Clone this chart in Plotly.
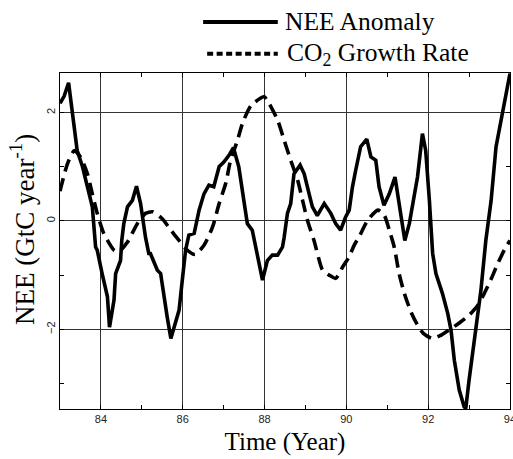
import plotly.graph_objects as go

# NEE anomaly (GtC / year) against decimal year
nee_year = [83.00, 83.10, 83.21, 83.34, 83.42, 83.55, 83.67, 83.79, 83.87, 83.91,
            84.03, 84.16, 84.21, 84.32, 84.36, 84.48, 84.51, 84.56, 84.65, 84.77,
            84.87, 84.97, 85.09, 85.17, 85.21, 85.38, 85.46, 85.54, 85.62, 85.71,
            85.83, 85.91, 85.99, 86.07, 86.15, 86.28, 86.40, 86.52, 86.64, 86.76,
            86.89, 87.01, 87.13, 87.24, 87.37, 87.46, 87.58, 87.70, 87.82, 87.95,
            88.07, 88.19, 88.32, 88.44, 88.48, 88.56, 88.64, 88.72, 88.87, 88.97,
            89.09, 89.17, 89.29, 89.46, 89.62, 89.74, 89.86, 89.98, 90.07, 90.15,
            90.23, 90.35, 90.50, 90.60, 90.72, 90.80, 90.92, 91.05, 91.19, 91.29,
            91.43, 91.54, 91.66, 91.74, 91.86, 91.94, 92.03, 92.11, 92.19, 92.35,
            92.48, 92.56, 92.64, 92.76, 92.88, 92.92, 93.00, 93.13, 93.29, 93.41,
            93.54, 93.66, 93.79, 93.91, 94.00]
nee_value = [2.17, 2.30, 2.55, 1.73, 1.30, 1.00, 0.63, 0.26, -0.48, -0.54,
             -0.97, -1.40, -1.96, -1.46, -0.97, -0.73, -0.36, -0.05, 0.26, 0.38,
             0.64, 0.32, -0.30, -0.60, -0.60, -0.91, -0.97, -1.40, -1.77, -2.17,
             -1.83, -1.65, -1.09, -0.54, -0.26, -0.23, 0.20, 0.50, 0.66, 0.63,
             1.00, 1.09, 1.21, 1.35, 1.00, 0.57, -0.05, -0.17, -0.60, -1.09,
             -0.73, -0.63, -0.63, -0.48, -0.30, 0.14, 0.32, 0.87, 1.03, 0.87,
             0.50, 0.26, 0.10, 0.32, 0.14, -0.05, -0.17, 0.07, 0.20, 0.63,
             0.94, 1.37, 1.51, 1.18, 1.12, 0.63, 0.29, 0.50, 0.81, 0.32,
             -0.36, -0.05, 0.50, 0.81, 1.61, 1.30, 0.38, -0.60, -0.97, -1.34,
             -1.71, -2.02, -2.57, -3.12, -3.43, -3.46, -2.94, -2.20, -1.28, -0.36,
             0.38, 1.37, 1.92, 2.35, 2.72]

# Atmospheric CO2 growth rate anomaly
co2_year = [83.00, 83.18, 83.35, 83.50, 83.67, 83.79, 83.91, 84.07, 84.32, 84.44,
            84.65, 84.89, 85.09, 85.26, 85.50, 85.71, 85.91, 86.11, 86.30, 86.52,
            86.73, 86.89, 87.05, 87.17, 87.34, 87.46, 87.67, 87.99, 88.11, 88.32,
            88.48, 88.64, 88.81, 88.93, 89.05, 89.21, 89.42, 89.58, 89.74, 89.91,
            90.07, 90.19, 90.32, 90.52, 90.77, 90.93, 91.05, 91.17, 91.29, 91.42,
            91.58, 91.74, 91.89, 92.11, 92.31, 92.56, 92.80, 93.00, 93.21, 93.37,
            93.53, 93.70, 93.86, 94.00]
co2_value = [0.55, 1.05, 1.30, 1.18, 0.87, 0.50, 0.14, -0.23, -0.54, -0.57,
             -0.39, -0.05, 0.14, 0.17, 0.04, -0.17, -0.36, -0.54, -0.62, -0.45,
             -0.11, 0.32, 0.69, 1.12, 1.49, 1.80, 2.13, 2.29, 2.17, 1.86,
             1.49, 1.12, 0.75, 0.38, 0.01, -0.36, -0.91, -1.00, -1.06, -0.85,
             -0.66, -0.45, -0.28, 0.01, 0.20, 0.10, -0.17, -0.48, -0.97, -1.34,
             -1.68, -1.92, -2.08, -2.17, -2.11, -1.99, -1.86, -1.74, -1.56, -1.34,
             -1.09, -0.79, -0.54, -0.36]

x_ticks = [84, 86, 88, 90, 92, 94]
x_tick_text = ["84", "86", "88", "90", "92", "94"]
y_ticks = [-2, 0, 2]
y_tick_text = ["\u22122", "0", "2"]

SERIF = "Liberation Serif, Times New Roman, serif"
SANS = "Liberation Sans, Arial, sans-serif"

fig = go.Figure()
fig.add_trace(go.Scatter(
    x=co2_year, y=co2_value, mode="lines", name="CO2 Growth Rate",
    line=dict(color="black", width=3.6, dash="13px,7px", shape="spline", smoothing=0.6),
    showlegend=False,
))
fig.add_trace(go.Scatter(
    x=nee_year, y=nee_value, mode="lines", name="NEE Anomaly",
    line=dict(color="black", width=3.6),
    showlegend=False,
))

axis_common = dict(
    showline=True, linecolor="black", linewidth=1.2, mirror="ticks",
    showgrid=True, gridcolor="#333333", gridwidth=1,
    zeroline=False, ticks="inside", ticklen=4, tickcolor="black",
    tickfont=dict(family=SANS, size=11, color="#222"),
    ticklabeloverflow="allow", automargin=False,
)

fig.update_xaxes(
    range=[83.0, 94.001], tickvals=x_ticks, ticktext=x_tick_text,
    minor=dict(dtick=1, tick0=83, ticks="inside", ticklen=4, tickcolor="black", showgrid=False),
    title=dict(text="Time (Year)", font=dict(family=SERIF, size=25, color="black"), standoff=8),
    **axis_common,
)
fig.update_yaxes(
    range=[-3.47, 2.73], tickvals=y_ticks, ticktext=y_tick_text, tickangle=-90,
    minor=dict(dtick=1, tick0=1, ticks="inside", ticklen=4, tickcolor="black", showgrid=False),
    **axis_common,
)

# Vertical axis title, placed as a rotated annotation left of the tick labels
fig.add_annotation(text="NEE (GtC year<sup>-1</sup>)", xref="paper", yref="paper",
                   x=-0.083, y=0.535, xanchor="center", yanchor="middle", textangle=-90,
                   showarrow=False, font=dict(family=SERIF, size=27, color="black"))

# Legend drawn as line samples with labels above the plot area
fig.add_shape(type="line", xref="paper", yref="paper", x0=0.318, x1=0.484, y0=1.152, y1=1.152,
              line=dict(color="black", width=4))
fig.add_shape(type="line", xref="paper", yref="paper", x0=0.327, x1=0.484, y0=1.057, y1=1.057,
              line=dict(color="black", width=4, dash="6px,3.5px"))
fig.add_annotation(text="NEE Anomaly", xref="paper", yref="paper", x=0.495, y=1.152,
                   xanchor="left", yanchor="middle", showarrow=False,
                   font=dict(family=SERIF, size=25.5, color="black"))
fig.add_annotation(text="CO<sub>2</sub> Growth Rate", xref="paper", yref="paper", x=0.5, y=1.057,
                   xanchor="left", yanchor="middle", showarrow=False,
                   font=dict(family=SERIF, size=25.5, color="black"))

fig.update_layout(
    width=513, height=459,
    margin=dict(l=60, r=3, t=73, b=50, autoexpand=False),
    paper_bgcolor="white", plot_bgcolor="white",
)

fig.write_html("out.html")
